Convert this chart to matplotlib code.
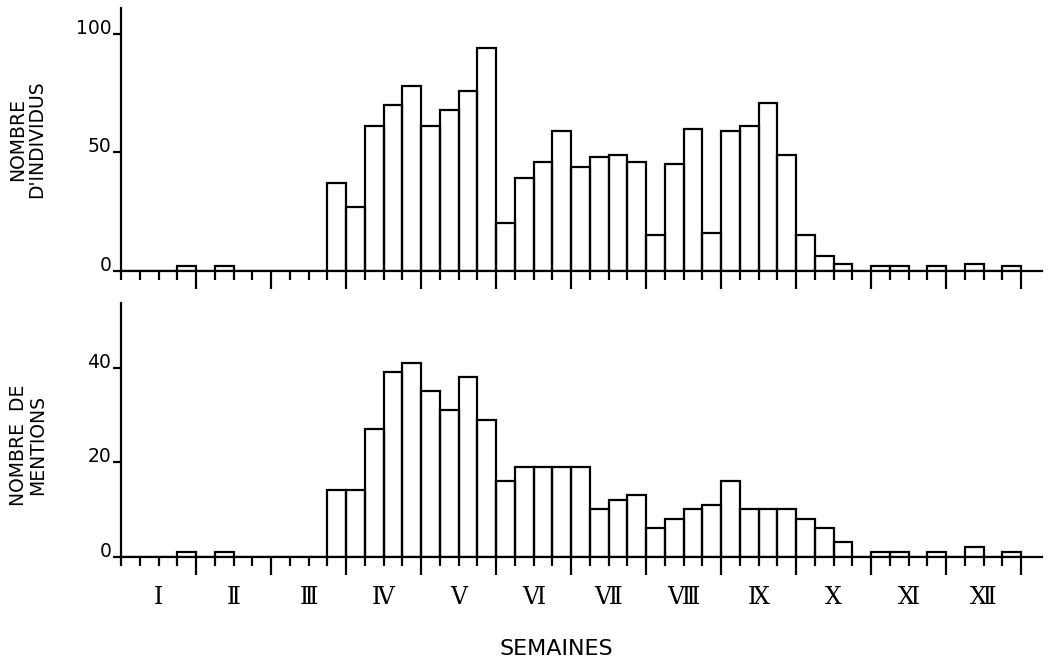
import matplotlib
matplotlib.use("Agg")
import matplotlib.pyplot as plt
from matplotlib.ticker import FixedLocator, NullFormatter
from matplotlib.transforms import blended_transform_factory

# Weekly counts, 48 weeks (4 per month)
individus = [0, 0, 0, 2, 0, 2, 0, 0, 0, 0, 0, 37,
             27, 61, 70, 78, 61, 68, 76, 94, 20, 39, 46, 59,
             44, 48, 49, 46, 15, 45, 60, 16, 59, 61, 71, 49,
             15, 6, 3, 0, 2, 2, 0, 2, 0, 3, 0, 2]
mentions = [0, 0, 0, 1, 0, 1, 0, 0, 0, 0, 0, 14,
            14, 27, 39, 41, 35, 31, 38, 29, 16, 19, 19, 19,
            19, 10, 12, 13, 6, 8, 10, 11, 16, 10, 10, 10,
            8, 6, 3, 0, 1, 1, 0, 1, 0, 2, 0, 1]
mois = ["Ⅰ", "Ⅱ", "Ⅲ", "Ⅳ", "Ⅴ", "Ⅵ", "Ⅶ", "Ⅷ", "Ⅸ", "Ⅹ", "Ⅺ", "Ⅻ"]
ticks_individus = [0, 50, 100]
ticks_mentions = [0, 20, 40]

plt.rcParams["font.family"] = ["DejaVu Sans"]
LW = 1.6

fig = plt.figure(figsize=(10.48, 6.67), dpi=100)
ax1 = fig.add_axes([0.1155, 0.5942, 0.8788, 0.3934])
ax2 = fig.add_axes([0.1155, 0.1654, 0.8788, 0.3799])


def style(ax, values, ymax, yticks):
    weeks = list(range(len(values)))
    ax.bar(weeks, values, width=1.0, align="edge", fill=False,
           edgecolor="black", linewidth=LW)
    ax.set_xlim(0, 49.12)
    ax.set_ylim(0, ymax)
    for s in ("top", "right"):
        ax.spines[s].set_visible(False)
    for s in ("left", "bottom"):
        ax.spines[s].set_linewidth(LW)
    major = [w for w in range(4, len(values) + 1, 4)]
    minor = [w for w in range(0, len(values)) if w % 4 != 0 or w == 0]
    ax.xaxis.set_major_locator(FixedLocator(major))
    ax.xaxis.set_minor_locator(FixedLocator(minor))
    ax.xaxis.set_major_formatter(NullFormatter())
    ax.tick_params(axis="x", which="major", direction="out", length=13,
                   width=LW)
    ax.tick_params(axis="x", which="minor", direction="out", length=6.5,
                   width=LW)
    ax.set_yticks(yticks)
    ax.set_yticklabels([str(t) for t in yticks])
    ax.tick_params(axis="y", direction="out", length=6, width=LW, pad=1,
                   labelsize=13.5)
    for lab in ax.get_yticklabels():
        lab.set_verticalalignment("baseline")


style(ax1, individus, 110.9, ticks_individus)
style(ax2, mentions, 53.6, ticks_mentions)

# Month numerals centred under each group of four weeks
trans = blended_transform_factory(ax2.transData, fig.transFigure)
for i, m in enumerate(mois):
    ax2.text(4 * i + 2, 0.104, m, transform=trans, ha="center", va="center",
             fontsize=17, family=["DejaVu Serif", "DejaVu Sans"],
             clip_on=False)

fig.text(0.026, 0.7916, "NOMBRE\nD'INDIVIDUS", rotation=90, ha="center",
         va="center", multialignment="center", fontsize=13.5,
         linespacing=1.0)
fig.text(0.027, 0.3328, "NOMBRE  DE\nMENTIONS", rotation=90, ha="center",
         va="center", multialignment="center", fontsize=13.5,
         linespacing=1.0)
fig.text(0.5305, 0.018, "SEMAINES", ha="center", va="baseline", fontsize=16)

fig.savefig("out.png", dpi=100)
